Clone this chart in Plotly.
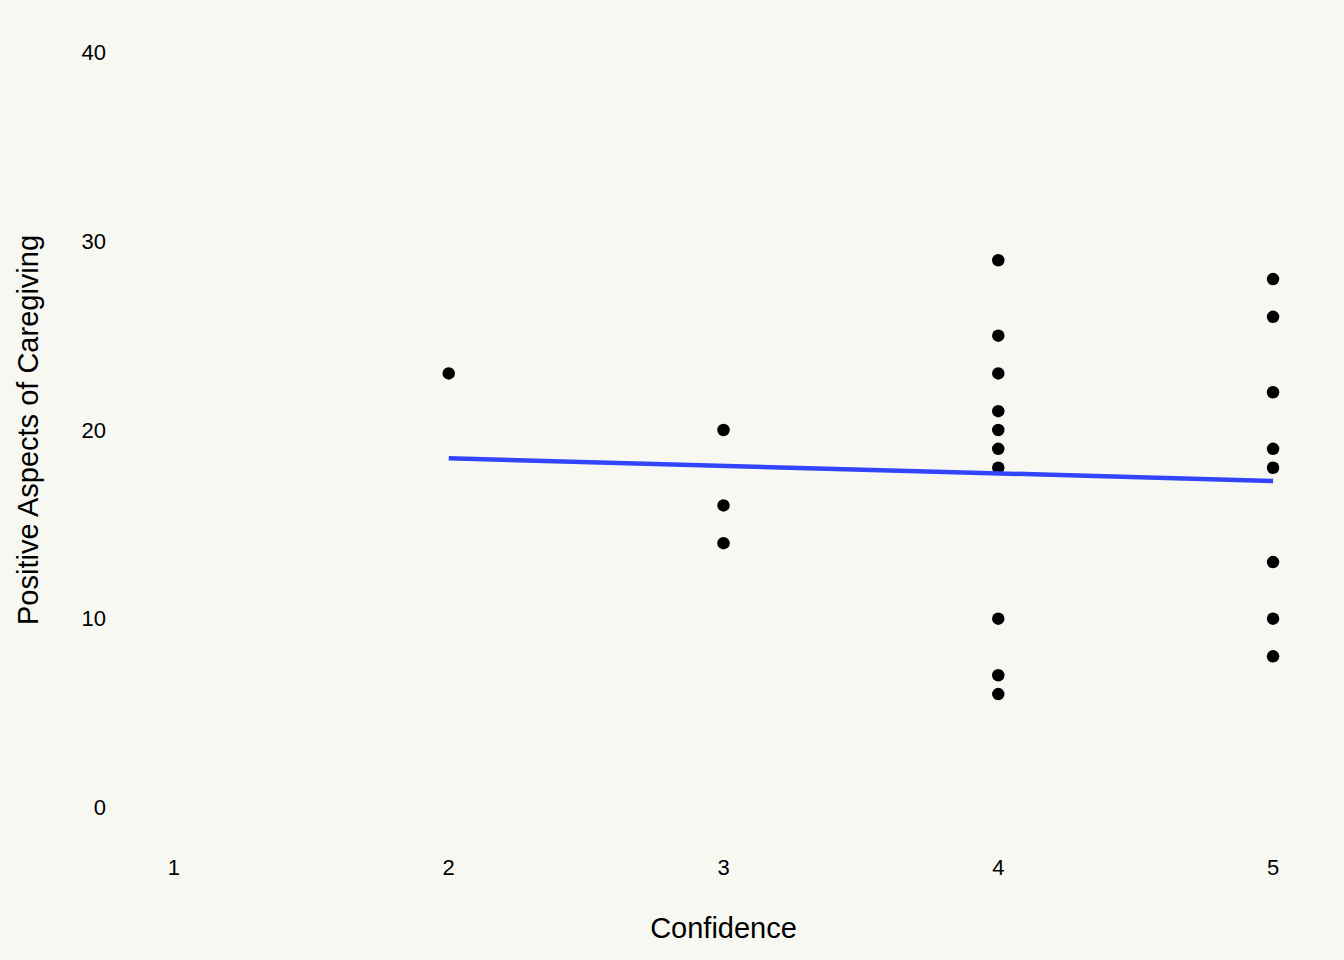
import plotly.graph_objects as go

# Confidence rating vs. Positive Aspects of Caregiving score
confidence = [2,
              3, 3, 3,
              4, 4, 4, 4, 4, 4, 4, 4, 4, 4,
              5, 5, 5, 5, 5, 5, 5, 5]
pac_score = [23,
             20, 16, 14,
             29, 25, 23, 21, 20, 19, 18, 10, 7, 6,
             28, 26, 22, 19, 18, 13, 10, 8]

# linear fit line
fit_x = [2, 5]
fit_y = [18.5, 17.3]

x_ticks = [1, 2, 3, 4, 5]
y_ticks = [0, 10, 20, 30, 40]

bg = "#F8F8F2"

fig = go.Figure()

fig.add_trace(go.Scatter(x=confidence, y=pac_score, mode="markers",
                         marker=dict(color="black", size=12.5),
                         showlegend=False, hoverinfo="x+y"))

fig.add_trace(go.Scatter(x=fit_x, y=fit_y, mode="lines",
                         line=dict(color="#3145FF", width=4.5),
                         showlegend=False))

fig.update_xaxes(range=[0.8, 5.2], tickvals=x_ticks, showgrid=False, zeroline=False,
                 showline=False, ticks="", ticklabelstandoff=7,
                 tickfont=dict(size=22, color="black"),
                 title=dict(text="Confidence", font=dict(size=29, color="black"), standoff=38))
fig.update_yaxes(range=[-2, 42], tickvals=y_ticks, showgrid=False, zeroline=False,
                 showline=False, ticks="", ticklabelstandoff=12,
                 tickfont=dict(size=22, color="black"),
                 title=dict(text="Positive Aspects of Caregiving", font=dict(size=29, color="black"),
                            standoff=34))

fig.update_layout(width=1344, height=960,
                  paper_bgcolor=bg, plot_bgcolor=bg,
                  font=dict(family="Liberation Sans, Arial, sans-serif"),
                  margin=dict(l=119, r=16, t=15, b=115))

# drop the browser's default page margin so the figure sits at 0,0
fig.write_html("out.html", config={"displayModeBar": False},
               post_script="document.body.style.margin='0';document.body.style.background='%s';" % bg)
